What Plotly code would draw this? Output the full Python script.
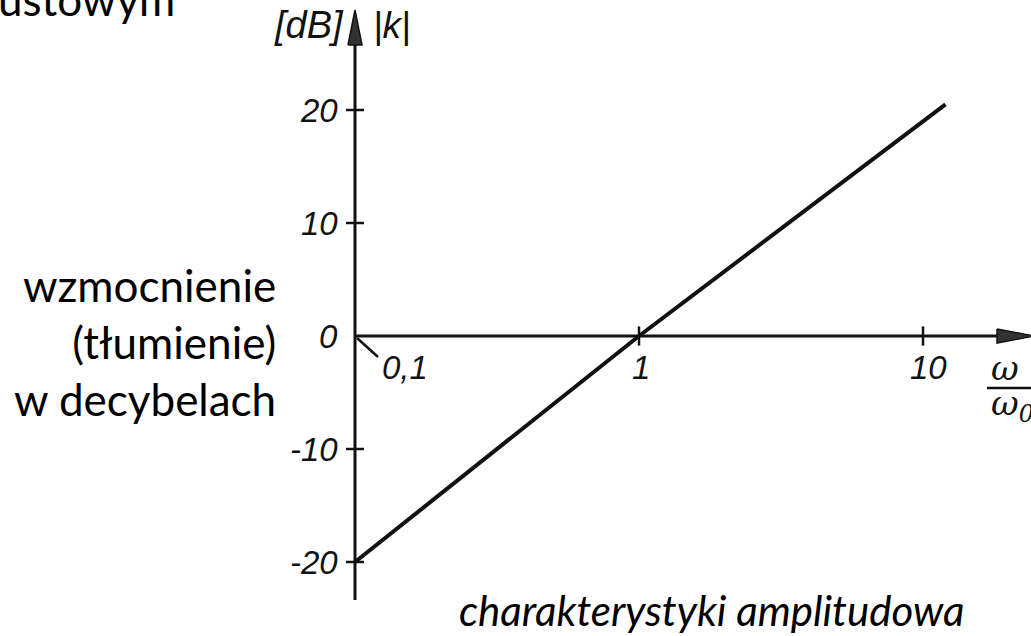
import numpy as np
import plotly.graph_objects as go

W, H = 1031, 636

# Amplitude characteristic |k| [dB] against normalised frequency ω/ω0
omega_ratio = [0.1, 1, 12]
gain_db = [-20, 0, 20.5]

x_tick_vals = [0.1, 1, 10]
x_tick_text = ["0,1", "1", "10"]
y_tick_vals = [20, 10, 0, -10, -20]
y_tick_text = ["20", "10", "0", "-10", "-20"]

# Drawing-area geometry (pixels)
ORIGIN_X_PX = 355      # position of ω/ω0 = 0.1
ORIGIN_Y_PX = 336      # position of 0 dB
DECADE_PX = 284        # pixels per decade
DB_PX = 11.3           # pixels per dB

x0_log = np.log10(x_tick_vals[0])
x_log_min = x0_log - ORIGIN_X_PX / DECADE_PX
x_log_max = x0_log + (W - ORIGIN_X_PX) / DECADE_PX
y_max = ORIGIN_Y_PX / DB_PX
y_min = -(H - ORIGIN_Y_PX) / DB_PX


def px_x(px):
    """Pixel column -> ω/ω0 value."""
    return 10 ** (x_log_min + px / DECADE_PX)


def px_y(py):
    """Pixel row -> dB value."""
    return y_max - py / DB_PX


INK = "#121212"
TICK_FONT = dict(family="Liberation Sans", size=33, color=INK)

fig = go.Figure()

# Axes
fig.add_trace(go.Scatter(
    x=[x_tick_vals[0], x_tick_vals[0], None, x_tick_vals[0], px_x(1000)],
    y=[px_y(600), px_y(40), None, 0, 0],
    mode="lines", line=dict(color=INK, width=3), hoverinfo="skip"))

# Arrowheads
fig.add_trace(go.Scatter(
    x=[px_x(348), px_x(362), px_x(355), px_x(348)],
    y=[px_y(45), px_y(45), px_y(10), px_y(45)],
    mode="lines", fill="toself", fillcolor="#333333",
    line=dict(color=INK, width=1.5), hoverinfo="skip"))
fig.add_trace(go.Scatter(
    x=[px_x(997), px_x(997), px_x(1034), px_x(997)],
    y=[px_y(ORIGIN_Y_PX - 7), px_y(ORIGIN_Y_PX + 7), 0, px_y(ORIGIN_Y_PX - 7)],
    mode="lines", fill="toself", fillcolor="#333333",
    line=dict(color=INK, width=1.5), hoverinfo="skip"))

# Tick marks
tx, ty = [], []
for v in y_tick_vals:
    if v == 0:
        continue
    tx += [px_x(346), px_x(364), None]
    ty += [v, v, None]
for v in x_tick_vals[1:]:
    tx += [v, v, None]
    ty += [0.85, -0.85, None]
# leader from the origin to the "0,1" label
tx += [px_x(357), px_x(378), None]
ty += [px_y(338), px_y(357), None]
fig.add_trace(go.Scatter(x=tx, y=ty, mode="lines",
                         line=dict(color=INK, width=2.5), hoverinfo="skip"))

# Characteristic
fig.add_trace(go.Scatter(x=omega_ratio, y=gain_db, mode="lines",
                         line=dict(color="#111111", width=4), hoverinfo="skip"))

annotations = []
for v, t in zip(y_tick_vals, y_tick_text):
    annotations.append(dict(
        x=np.log10(px_x(340)), y=v, xref="x", yref="y", text=f"<i>{t}</i>",
        showarrow=False, xanchor="right", yanchor="middle", font=TICK_FONT))

x_label_shift = {0.1: 50, 1: 2, 10: 5}
for v, t in zip(x_tick_vals, x_tick_text):
    annotations.append(dict(
        x=np.log10(v), y=0, xref="x", yref="y", text=f"<i>{t}</i>",
        showarrow=False, xanchor="center", yanchor="middle",
        xshift=x_label_shift[v], yshift=-31, font=TICK_FONT))


def paper(px, py):
    return dict(x=px / W, y=1 - py / H, xref="paper", yref="paper")


annotations += [
    dict(**paper(346, 25), text="<i>[dB]</i>", showarrow=False,
         xanchor="right", yanchor="middle",
         font=dict(family="Liberation Sans", size=38, color=INK)),
    dict(**paper(371, 25), text="<i>|k|</i>", showarrow=False,
         xanchor="left", yanchor="middle",
         font=dict(family="Liberation Sans", size=37, color=INK)),
    dict(**paper(989, 368), text="<i>ω</i>", showarrow=False,
         xanchor="left", yanchor="middle",
         font=dict(family="DejaVu Serif", size=34, color=INK)),
    dict(**paper(989, 405), text="<i>ω<sub>0</sub></i>", showarrow=False,
         xanchor="left", yanchor="middle",
         font=dict(family="DejaVu Serif", size=34, color=INK)),
    dict(**paper(278, 342),
         text="wzmocnienie<br>(tłumienie)<br>w decybelach",
         showarrow=False, xanchor="right", yanchor="middle", align="right",
         font=dict(family="Lato", size=44, color="#000000")),
    dict(**paper(177, 27), text="ustowym", showarrow=False,
         xanchor="right", yanchor="bottom",
         font=dict(family="Lato", size=44, color="#000000")),
    dict(**paper(711, 610), text="<i>charakterystyki amplitudowa</i>",
         showarrow=False, xanchor="center", yanchor="middle",
         font=dict(family="Lato", size=42, color="#000000")),
]

fig.update_layout(
    width=W, height=H,
    margin=dict(l=0, r=0, t=0, b=0),
    paper_bgcolor="white", plot_bgcolor="white",
    showlegend=False,
    xaxis=dict(type="log", range=[x_log_min, x_log_max], visible=False,
               fixedrange=True),
    yaxis=dict(range=[y_min, y_max], visible=False, fixedrange=True),
    annotations=annotations,
    shapes=[dict(type="line", xref="paper", yref="paper",
                 x0=987 / W, x1=1040 / W, y0=1 - 388 / H, y1=1 - 388 / H,
                 line=dict(color=INK, width=2.5))],
)

fig.write_html("out.html", config={"displayModeBar": False})
